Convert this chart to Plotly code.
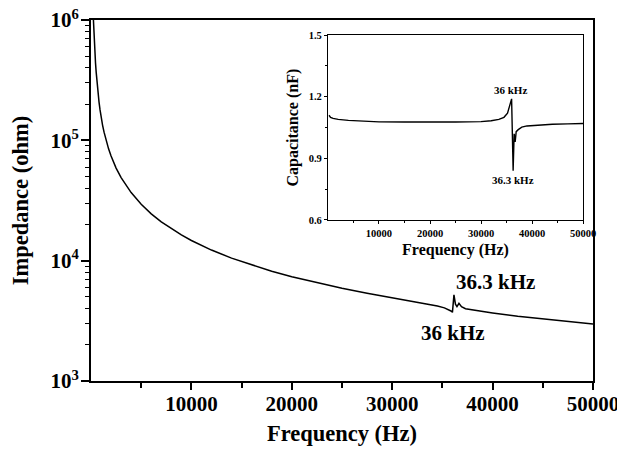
import plotly.graph_objects as go

# ---- main chart data ----
freq_hz = [220, 260, 300, 350, 400, 450, 520, 600, 700, 800, 900, 1000, 1150, 1300, 1500,
           1750, 2000, 2500, 3000, 3500, 4000, 5000, 6000, 7000, 8000, 9000, 10000, 12000,
           14000, 16000, 18000, 20000, 22500, 25000, 27500, 30000, 32000, 33500, 34500,
           35200, 35600, 35900, 36000, 36150, 36300, 36450, 36650, 36900, 37300, 38000,
           40000, 42500, 45000, 47500, 50000]
impedance_ohm = [1.09e6, 8.85e5, 7.33e5, 6.06e5, 5.13e5, 4.38e5, 3.65e5, 3.0e5, 2.46e5,
                 2.08e5, 1.79e5, 1.57e5, 1.34e5, 1.17e5, 1.0e5, 8.5e4, 7.4e4, 5.88e4,
                 4.9e4, 4.2e4, 3.68e4, 2.94e4, 2.45e4, 2.1e4, 1.84e4, 1.635e4, 1.47e4,
                 1.225e4, 1.05e4, 9.2e3, 8.17e3, 7.35e3, 6.55e3, 5.9e3, 5.37e3, 4.93e3,
                 4.6e3, 4.35e3, 4.2e3, 4.05e3, 3.93e3, 3.8e3, 3.72e3, 5.2e3, 4.35e3,
                 4.15e3, 4.42e3, 4.15e3, 3.99e3, 3.9e3, 3.68e3, 3.45e3, 3.27e3, 3.1e3,
                 2.97e3]

# ---- inset data ----
inset_freq_hz = [200, 500, 1000, 2000, 4000, 7000, 10000, 15000, 20000, 25000, 30000,
                 32000, 33500, 34500, 35200, 35600, 36000, 36300, 36500, 36700, 36900,
                 37300, 38000, 39000, 41000, 44000, 47000, 50000]
capacitance_nf = [1.11, 1.10, 1.095, 1.09, 1.085, 1.08, 1.078, 1.077, 1.076, 1.077, 1.079,
                  1.083, 1.09, 1.10, 1.12, 1.15, 1.19, 0.84, 1.02, 0.98, 1.03, 1.04,
                  1.052, 1.058, 1.062, 1.066, 1.068, 1.07]

# ---- ticks ----
main_x_ticks = [10000, 20000, 30000, 40000, 50000]
main_x_minor = [5000, 15000, 25000, 35000, 45000]
main_y_ticks = [1e3, 1e4, 1e5, 1e6]
main_y_ticktext = ["<b>10<sup>3</sup></b>", "<b>10<sup>4</sup></b>",
                   "<b>10<sup>5</sup></b>", "<b>10<sup>6</sup></b>"]
main_y_minor = [m * 10 ** e for e in (3, 4, 5) for m in range(2, 10)]
inset_x_ticks = [10000, 20000, 30000, 40000, 50000]
inset_x_minor = [5000, 15000, 25000, 35000, 45000]
inset_y_ticks = [0.6, 0.9, 1.2, 1.5]
inset_y_minor = [0.75, 1.05, 1.35]

FONT = "Liberation Serif"

fig = go.Figure()
fig.add_trace(go.Scatter(x=freq_hz, y=impedance_ohm, mode="lines",
                         line=dict(color="black", width=1.5),
                         xaxis="x", yaxis="y", showlegend=False))
fig.add_trace(go.Scatter(x=inset_freq_hz, y=capacitance_nf, mode="lines",
                         line=dict(color="black", width=1.4),
                         xaxis="x2", yaxis="y2", showlegend=False))

# the page body adds an 8 px offset at the top-left, so the figure is 8 px smaller
fig.update_layout(
    width=617, height=442,
    margin=dict(l=83, r=32, t=12, b=69),
    paper_bgcolor="white", plot_bgcolor="white",
    font=dict(family=FONT, color="black"),
    xaxis=dict(
        domain=[0, 1], range=[0, 50000], showgrid=False, zeroline=False,
        showline=True, linecolor="black", linewidth=2, mirror=True,
        ticks="outside", ticklen=7, tickwidth=1.5, tickcolor="black",
        tickmode="array", tickvals=main_x_ticks,
        ticktext=[f"<b>{v}</b>" for v in main_x_ticks],
        tickfont=dict(family=FONT, size=21), ticklabeloverflow="allow",
        ticklabelstandoff=-4,
        minor=dict(tickvals=main_x_minor, ticks="outside", ticklen=5,
                   tickwidth=1.5, tickcolor="black", showgrid=False),
        title=dict(text="<b>Frequency (Hz)</b>", font=dict(family=FONT, size=22.5),
                   standoff=10),
        automargin=False,
    ),
    yaxis=dict(
        domain=[0, 1], type="log", range=[3, 6], showgrid=False, zeroline=False,
        showline=True, linecolor="black", linewidth=2, mirror=True,
        ticks="outside", ticklen=8, tickwidth=1.5, tickcolor="black",
        tickmode="array", tickvals=main_y_ticks, ticktext=main_y_ticktext,
        tickfont=dict(family=FONT, size=21), ticklabeloverflow="allow",
        ticklabelstandoff=-2,
        minor=dict(tickvals=main_y_minor, ticks="outside", ticklen=4,
                   tickwidth=1.2, tickcolor="black", showgrid=False),
        title=dict(text="<b>Impedance (ohm)</b>", font=dict(family=FONT, size=22.5),
                   standoff=16),
        automargin=False,
    ),
    xaxis2=dict(
        domain=[0.4721, 0.9801], anchor="y2", range=[0, 50000],
        showgrid=False, zeroline=False,
        showline=True, linecolor="black", linewidth=1.2, mirror=True,
        ticks="outside", ticklen=3, tickwidth=1, tickcolor="black",
        tickmode="array", tickvals=inset_x_ticks,
        ticktext=[f"<b>{v}</b>" for v in inset_x_ticks],
        tickfont=dict(family=FONT, size=10.5), ticklabeloverflow="allow",
        minor=dict(tickvals=inset_x_minor, ticks="outside", ticklen=2,
                   tickwidth=1, tickcolor="black", showgrid=False),
        title=dict(text="<b>Frequency (Hz)</b>", font=dict(family=FONT, size=16),
                   standoff=6),
        automargin=False,
    ),
    yaxis2=dict(
        domain=[0.446, 0.958], anchor="x2", range=[0.6, 1.5],
        showgrid=False, zeroline=False,
        showline=True, linecolor="black", linewidth=1.2, mirror=True,
        ticks="outside", ticklen=3, tickwidth=1, tickcolor="black",
        tickmode="array", tickvals=inset_y_ticks,
        ticktext=[f"<b>{v}</b>" for v in inset_y_ticks],
        tickfont=dict(family=FONT, size=10.5), ticklabeloverflow="allow",
        minor=dict(tickvals=inset_y_minor, ticks="outside", ticklen=2,
                   tickwidth=1, tickcolor="black", showgrid=False),
        title=dict(text="<b>Capacitance (nF)</b>", font=dict(family=FONT, size=16),
                   standoff=6),
        automargin=False,
    ),
    annotations=[
        dict(text="<b>36.3 kHz</b>", x=40330, y=3.823, xref="x", yref="y",
             showarrow=False, font=dict(family=FONT, size=21)),
        dict(text="<b>36 kHz</b>", x=36040, y=3.40, xref="x", yref="y",
             showarrow=False, font=dict(family=FONT, size=21)),
        dict(text="<b>36 kHz</b>", x=35880, y=1.232, xref="x2", yref="y2",
             showarrow=False, font=dict(family=FONT, size=11)),
        dict(text="<b>36.3 kHz</b>", x=36270, y=0.795, xref="x2", yref="y2",
             showarrow=False, font=dict(family=FONT, size=11)),
    ],
)

fig.write_html("out.html")
